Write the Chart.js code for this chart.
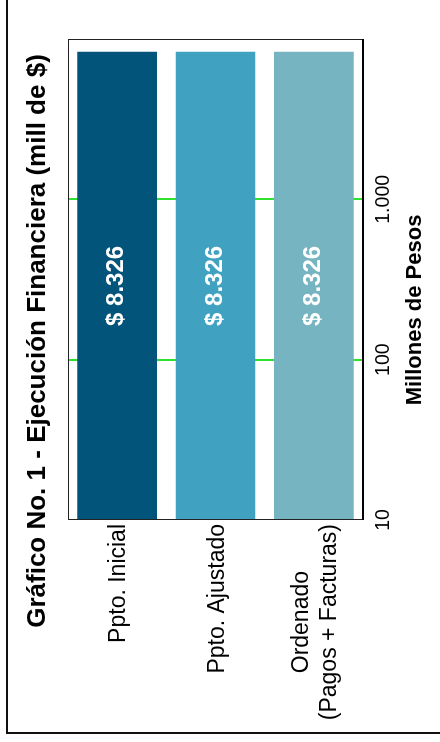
<!DOCTYPE html>
<html>
<head>
<meta charset="utf-8">
<script src="https://cdn.jsdelivr.net/npm/chart.js@4.4.1/dist/chart.umd.min.js"></script>
<style>
  html, body { margin: 0; padding: 0; background: #fff; overflow: hidden; }
  body { width: 440px; height: 742px; position: relative; }
  /* chart is drawn landscape and turned a quarter turn, like the original */
  #chart { position: absolute; left: -151px; top: 151px; transform: rotate(-90deg); }
</style>
</head>
<body>
<canvas id="chart" width="742" height="440"></canvas>
<script>
const categories = ['Ppto. Inicial', 'Ppto. Ajustado', ['Ordenado', '(Pagos + Facturas)']];
const values = [8326, 8326, 8326];
const barColors = ['#03547a', '#41a1c1', '#76b4c1'];
const tickValues = [10, 100, 1000, 10000];
const gridValues = [100, 1000];
const title = 'Gráfico No. 1 - Ejecución Financiera (mill de $)';
const axisTitle = 'Millones de Pesos';

const FONT = "'Liberation Sans', Arial, sans-serif";

function miles(v) {
  return String(v).replace(/\B(?=(\d{3})+(?!\d))/g, '.');
}

const textPlugin = {
  id: 'textPlugin',
  beforeDraw(chart) {
    const ctx = chart.ctx;
    ctx.save();
    ctx.fillStyle = '#fff';
    ctx.fillRect(0, 0, chart.width, chart.height);
    ctx.strokeStyle = '#111';
    ctx.lineWidth = 2;
    ctx.strokeRect(9, 7, 800, 500);
    ctx.restore();
  },
  afterDatasetsDraw(chart) {
    const { ctx, chartArea: a, scales } = chart;
    ctx.save();
    // frame round the plot, value axis a bit heavier
    ctx.strokeStyle = '#222';
    ctx.lineWidth = 1;
    ctx.strokeRect(a.left + 0.5, a.top + 0.5, a.width - 1, a.height - 1);
    ctx.strokeStyle = '#000';
    ctx.lineWidth = 2;
    ctx.beginPath();
    ctx.moveTo(a.left, a.bottom);
    ctx.lineTo(a.right, a.bottom);
    ctx.stroke();

    // value labels inside the bars
    const meta = chart.getDatasetMeta(0);
    ctx.fillStyle = '#fff';
    ctx.font = 'bold 24px ' + FONT;
    ctx.textAlign = 'center';
    ctx.textBaseline = 'alphabetic';
    meta.data.forEach((bar, i) => {
      ctx.fillText('$ ' + miles(values[i]), (bar.x + bar.base) / 2, bar.y + 6);
    });

    // category labels, lines centred on each other, block against the axis
    ctx.fillStyle = '#000';
    ctx.font = '23px ' + FONT;
    categories.forEach((c, i) => {
      const lines = Array.isArray(c) ? c : [c];
      const w = Math.max(...lines.map(l => ctx.measureText(l).width));
      const cx = a.left - 4 - w / 2;
      const cy = scales.y.getPixelForValue(i);
      lines.forEach((l, j) => {
        ctx.fillText(l, cx, cy + 8 + (j - (lines.length - 1) / 2) * 28);
      });
    });

    // chart title and axis title
    ctx.font = 'bold 26px ' + FONT;
    ctx.fillText(title, 401, 45);
    ctx.font = 'bold 22px ' + FONT;
    ctx.fillText(axisTitle, 432, 421);
    ctx.restore();
  }
};

new Chart(document.getElementById('chart'), {
  type: 'bar',
  data: {
    labels: categories,
    datasets: [{
      data: values,
      backgroundColor: barColors,
      borderWidth: 0,
      barPercentage: 0.81,
      categoryPercentage: 1
    }]
  },
  options: {
    indexAxis: 'y',
    responsive: false,
    animation: false,
    layout: { padding: { top: 68, right: 39, bottom: 0, left: 0 } },
    plugins: { legend: { display: false }, tooltip: { enabled: false } },
    scales: {
      x: {
        type: 'logarithmic',
        position: 'bottom',
        min: 10,
        max: 10000,
        afterBuildTicks: s => { s.ticks = tickValues.map(v => ({ value: v })); },
        afterFit: s => { s.height = 77; },
        ticks: {
          autoSkip: false,
          maxRotation: 0,
          padding: 9,
          color: '#000',
          font: { family: FONT, size: 19.5 },
          callback: v => (v === 10000 ? '' : miles(v))
        },
        grid: {
          drawTicks: false,
          lineWidth: 2,
          color: c => (c.tick && gridValues.includes(c.tick.value) ? '#2fe02f' : 'rgba(0,0,0,0)')
        },
        border: { display: false }
      },
      y: {
        type: 'category',
        afterFit: s => { s.width = 222; },
        ticks: { display: false },
        grid: { display: false },
        border: { display: false }
      }
    }
  },
  plugins: [textPlugin]
});
</script>
</body>
</html>
